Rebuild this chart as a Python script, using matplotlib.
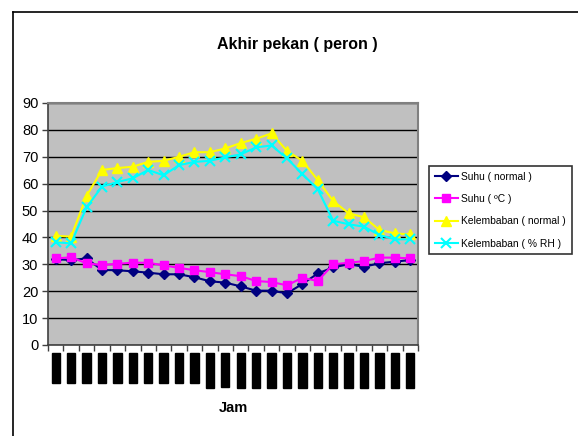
import matplotlib
matplotlib.use("Agg")
import matplotlib.pyplot as plt
from matplotlib.lines import Line2D

plt.rcParams['font.family'] = ['Liberation Sans', 'DejaVu Sans']

hours = ["%d:00:00" % h for h in range(24)]
suhu_normal = [31.9, 31.6, 32.2, 27.9, 27.8, 27.4, 26.9, 26.3, 26.3, 25.2, 23.7, 23.2,
               21.8, 20.2, 20.2, 19.2, 22.7, 26.6, 28.9, 30.0, 29.1, 30.4, 31.0, 31.6]
suhu_c = [32.2, 32.6, 30.4, 29.7, 30.2, 30.6, 30.6, 29.6, 28.7, 27.8, 27.1, 26.3,
          25.6, 23.8, 23.4, 22.2, 25.0, 23.8, 30.0, 30.6, 31.2, 32.5, 32.5, 32.2]
kelembaban_normal = [40.6, 40.3, 55.4, 65.1, 65.8, 66.3, 68.1, 68.5, 70.0, 71.7, 71.7, 73.1,
                     75.1, 76.7, 78.7, 72.2, 68.5, 61.3, 53.5, 49.0, 47.5, 42.8, 41.5, 41.1]
kelembaban_rh = [38.2, 37.8, 51.2, 58.9, 60.6, 62.0, 65.1, 63.1, 66.9, 68.1, 68.5, 69.8,
                 70.9, 73.5, 74.2, 69.4, 63.6, 57.9, 46.2, 44.9, 44.0, 40.9, 39.3, 39.3]
series_names = ["Suhu ( normal )", "Suhu ( ºC )", "Kelembaban ( normal )", "Kelembaban ( % RH )"]

W, H = 578, 436
fig = plt.figure(figsize=(W / 100, H / 100), dpi=100)
ax = fig.add_axes([48 / W, 1 - 345 / H, 370 / W, 242 / H])
ax.set_facecolor('#C0C0C0')

x = list(range(len(hours)))
ax.plot(x, suhu_normal, color='#000080', marker='D', markersize=5, lw=1.5, label=series_names[0])
ax.plot(x, suhu_c, color='#FF00FF', marker='s', markersize=6, lw=1.5, label=series_names[1])
ax.plot(x, kelembaban_normal, color='#FFFF00', marker='^', markersize=7, lw=1.5, label=series_names[2])
ax.plot(x, kelembaban_rh, color='#00FFFF', marker='x', markersize=7, mew=1.5, lw=1.5, label=series_names[3])

ax.set_xlim(-0.5, len(hours) - 0.5)
ax.set_ylim(0, 90)
ax.set_yticks(range(0, 91, 10))
ax.yaxis.grid(True, color='black', lw=1)
ax.set_axisbelow(True)
ax.tick_params(axis='y', length=4, width=1, color='#404040', labelsize=10.5, pad=3)

ax.set_xticks(x)
ax.set_xticks([i - 0.5 for i in range(len(hours) + 1)], minor=True)
ax.tick_params(axis='x', which='minor', length=4, width=1, color='#404040')
ax.tick_params(axis='x', which='major', length=0, pad=6.5)
ax.set_xticklabels(hours, rotation=90, fontsize=6, color='black', va='top')
for lbl in ax.get_xticklabels():
    lbl.set_bbox(dict(facecolor='black', edgecolor='black', pad=0.5))

for s in ['top', 'right']:
    ax.spines[s].set_color('#808080')
    ax.spines[s].set_linewidth(1.5)
for s in ['left', 'bottom']:
    ax.spines[s].set_color('#404040')
    ax.spines[s].set_linewidth(1.2)

fig.text(297 / W, 1 - 44 / H, "Akhir pekan ( peron )", ha='center', va='center',
         fontsize=11.5, fontweight='bold')
fig.text(233 / W, 1 - 408 / H, "Jam", ha='center', va='center', fontsize=10.5, fontweight='bold')

leg = fig.legend(loc='upper left', bbox_to_anchor=(429 / W, 1 - 166 / H), frameon=True,
                 fontsize=7.4, borderaxespad=0, handlelength=2.3, handletextpad=0.3,
                 labelspacing=1.2, borderpad=0.55, fancybox=False)
leg.get_frame().set_edgecolor('black')
leg.get_frame().set_linewidth(1.2)

fig.add_artist(Line2D([13 / W, 13 / W], [0, 1 - 12 / H], transform=fig.transFigure, color='black', lw=1.2))
fig.add_artist(Line2D([13 / W, 1], [1 - 12 / H, 1 - 12 / H], transform=fig.transFigure, color='black', lw=1.2))

fig.savefig('out.png', dpi=100)
